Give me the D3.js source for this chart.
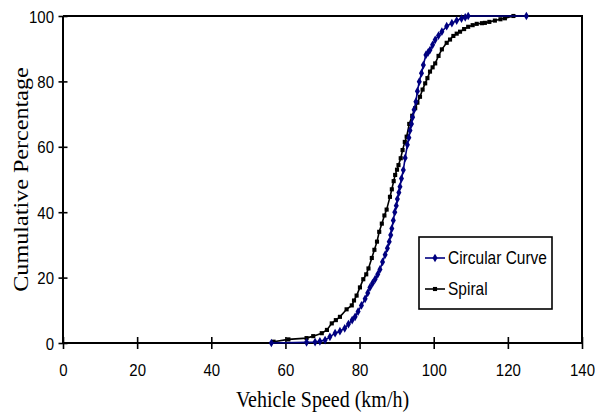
<!DOCTYPE html>
<html><head><meta charset="utf-8">
<script src="https://cdn.jsdelivr.net/npm/d3@7"></script>
<style>body{margin:0;background:#fff}svg{display:block}</style>
</head><body>
<svg id="c" width="595" height="413"></svg>
<script>
// Circular Curve: vehicle speed (km/h) and cumulative percentage
const circSpeed = [56.2,65.7,68,69.3,70.7,72,73.4,74.7,76,77,78,78.8,79.6,80.5,81.5,82.2,82.8,83.5,84.2,84.9,85.5,86.2,86.9,87.5,88,88.4,88.7,89.1,89.5,89.9,90.2,90.6,90.9,91.3,91.8,92.3,92.9,93.3,93.6,94,94.3,94.7,95.2,95.6,96.1,96.7,97.2,97.9,98.5,99,99.7,100.4,101.3,102.2,103.5,104.9,106.2,107.5,108.5,109.3,125];
const circPct   = [0,0.2,0.3,0.5,0.9,1.9,3,3.6,4.5,5.8,7,8,9.6,11.5,13.5,15.3,17,18.3,19.5,21,22.5,24.8,27,29,31,33,35,37.5,40,42,44,46,47.8,50.3,52.9,56.6,60.6,62.8,65,67,69,71.3,73.8,77,79.9,82.5,85,88.1,88.9,89.6,91.2,92.7,94,95.2,96.9,97.8,98.6,99.2,99.6,100,100];
// Spiral
const spirSpeed = [56.8,60.8,65.7,67.5,69.8,71.2,72.5,73.6,74.7,76.5,77.9,78.5,79.2,80.1,81,81.8,82.4,83.3,84,84.7,85.3,86,86.7,87.3,88.2,88.7,89.2,89.6,90.1,90.5,91.1,91.6,92.2,92.7,93.4,94.2,95,95.6,96.3,97,97.7,98.3,99,99.7,100.4,101.3,102.2,103.5,104.4,105.3,106.2,107.1,108.2,109.3,110.5,111.6,113,113.8,115,116.5,118,119.2,121.5];
const spirPct   = [0.4,1.1,1.5,2.1,3,4,6,7,8,10.3,11.5,13,14.5,17,19.5,21,22.8,26,28.5,31,34,36.5,39,40.8,44.7,47,49.5,51.4,53,54.4,56.5,59,61.5,63.1,67,69.5,71.8,73.5,75.3,77.5,79.4,81,83,84.3,85.5,87.8,89.8,91.8,92.8,93.9,94.6,95.2,96,96.7,97.2,97.6,97.8,97.9,98.2,98.6,99,99.3,100];
const seriesNames = ["Circular Curve","Spiral"];
const xTicks = [0,20,40,60,80,100,120,140];
const yTicks = [0,20,40,60,80,100];

const svg = d3.select("#c");
const x = d3.scaleLinear().domain([0,140]).range([63,582]);
const y = d3.scaleLinear().domain([0,100]).range([343,16]);
const SY = 1.15;
const sans = "Liberation Sans, Arial, sans-serif";
const serif = "Liberation Serif, Times New Roman, serif";

// frame (top & right)
svg.append("path").attr("d",`M${x(0)},${y(100)}H${x(140)}V${y(0)}`)
  .attr("fill","none").attr("stroke","#000").attr("stroke-width",2);

// x axis
const gx = svg.append("g").attr("transform",`translate(0,${y(0)})`)
  .call(d3.axisBottom(x).tickValues(xTicks).tickFormat(d3.format("d")).tickSize(6).tickPadding(0));
gx.select(".domain").attr("stroke-width",2).attr("d",`M${x(0)},0H${x(140)}`);
gx.selectAll(".tick line").attr("y1",-6).attr("y2",6).attr("stroke-width",1.6);
gx.selectAll(".tick text").remove();
gx.selectAll(".tick").append("text").attr("fill","#000")
  .attr("transform",`translate(0,33) scale(1,${SY})`)
  .attr("text-anchor","middle").style("font",`15px ${sans}`).text(d=>d);

// y axis
const gy = svg.append("g").attr("transform",`translate(${x(0)},0)`)
  .call(d3.axisLeft(y).tickValues(yTicks).tickFormat(d3.format("d")).tickSize(5));
gy.select(".domain").attr("stroke-width",2).attr("d",`M0,${y(0)}V${y(100)}`);
gy.selectAll(".tick line").attr("x1",-4.5).attr("x2",4.5).attr("stroke-width",1.6);
gy.selectAll(".tick text").remove();
gy.selectAll(".tick").append("text").attr("fill","#000")
  .attr("transform",`translate(-9,6) scale(1,${SY})`)
  .attr("text-anchor","end").style("font",`15px ${sans}`).text(d=>d);

// axis titles
svg.append("text").attr("transform",`translate(${(x(0)+x(140))/2},407) scale(1,${SY})`)
  .attr("text-anchor","middle").style("font",`20px ${serif}`).text("Vehicle Speed (km/h)");
svg.append("text").attr("transform",`translate(28,${(y(0)+y(100))/2}) rotate(-90) scale(${SY},1)`)
  .attr("text-anchor","middle").style("font",`21px ${serif}`).text("Cumulative Percentage");

const line = d3.line().x(d=>x(d[0])).y(d=>y(d[1]));
const circ = circSpeed.map((s,i)=>[s,circPct[i]]);
const spir = spirSpeed.map((s,i)=>[s,spirPct[i]]);
const blue = "#000080";
const diamond = d3.symbol(d3.symbolDiamond, 22);
const square = d3.symbol(d3.symbolSquare, 17);

svg.append("path").datum(spir).attr("d",line).attr("fill","none").attr("stroke","#000").attr("stroke-width",1.6);
svg.append("g").selectAll("path").data(spir).join("path")
  .attr("d",square).attr("transform",d=>`translate(${x(d[0])},${y(d[1])})`).attr("fill","#000");

svg.append("path").datum(circ).attr("d",line).attr("fill","none").attr("stroke",blue).attr("stroke-width",1.6);
svg.append("g").selectAll("path").data(circ).join("path")
  .attr("d",diamond).attr("transform",d=>`translate(${x(d[0])},${y(d[1])})`).attr("fill",blue);

// legend
const lg = svg.append("g");
lg.append("rect").attr("x",419).attr("y",237).attr("width",133).attr("height",72)
  .attr("fill","#fff").attr("stroke","#000").attr("stroke-width",1.6);
const items = [{name:seriesNames[0],c:blue,sym:diamond,y:258},{name:seriesNames[1],c:"#000",sym:square,y:289}];
items.forEach(it=>{
  lg.append("line").attr("x1",425).attr("x2",445).attr("y1",it.y).attr("y2",it.y).attr("stroke",it.c).attr("stroke-width",1.6);
  lg.append("path").attr("d",it.sym).attr("transform",`translate(435,${it.y})`).attr("fill",it.c);
  lg.append("text").attr("transform",`translate(448,${it.y+6}) scale(1,${SY})`)
    .style("font",`15.5px ${sans}`).attr("fill","#000").text(it.name);
});
</script>
</body></html>
